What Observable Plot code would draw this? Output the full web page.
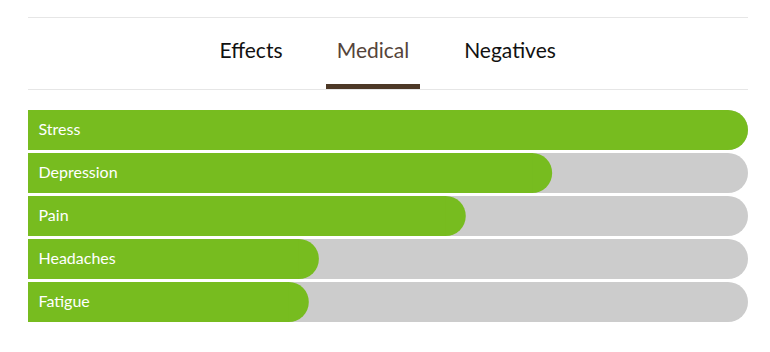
<!DOCTYPE html>
<html>
<head>
<meta charset="utf-8">
<script src="https://cdn.jsdelivr.net/npm/d3@7"></script>
<script src="https://cdn.jsdelivr.net/npm/@observablehq/plot@0.6"></script>
<style>
  html, body { margin: 0; padding: 0; background: #fff; }
  body { width: 770px; height: 352px; overflow: hidden; font-family: Lato, "Open Sans", sans-serif; }
  #header { position: relative; width: 770px; height: 100px; }
  .rule { position: absolute; left: 28px; width: 720px; height: 1px; background: #e6e6e6; }
  .tab { position: absolute; top: 39px; font-size: 21px; font-weight: 400; line-height: 22px; color: #111; transform: translateX(-50%); white-space: nowrap; }
  .tab.active { color: #55443a; }
  #underline { position: absolute; left: 326px; top: 84px; width: 94px; height: 5px; background: #4d3826; }
  #chart svg { display: block; }
</style>
</head>
<body>
<div id="header">
  <div class="rule" style="top:17px"></div>
  <div id="tabs"></div>
  <div id="underline"></div>
  <div class="rule" style="top:89px"></div>
</div>
<div id="chart"></div>
<script>
const tabs = ["Effects", "Medical", "Negatives"];
const activeTab = "Medical";
const tabCenters = [251, 373, 510];

const conditions = ["Stress", "Depression", "Pain", "Headaches", "Fatigue"];
const percents = [100, 72.8, 60.8, 40.4, 39.0];

const tabsDiv = document.getElementById("tabs");
tabs.forEach((t, i) => {
  const el = document.createElement("div");
  el.className = "tab" + (t === activeTab ? " active" : "");
  el.style.left = tabCenters[i] + "px";
  el.textContent = t;
  tabsDiv.appendChild(el);
});

const data = conditions.map((c, i) => ({name: c, value: percents[i]}));

const chart = Plot.plot({
  width: 770,
  height: 252,
  marginLeft: 28,
  marginRight: 22,
  marginTop: 10,
  marginBottom: 30,
  style: {fontFamily: "Lato, 'Open Sans', sans-serif", background: "#fff"},
  x: {domain: [0, 100], axis: null},
  y: {domain: conditions, axis: null, paddingInner: 3 / 43, paddingOuter: 0},
  marks: [
    // grey track (rounded right, square left)
    Plot.barX(data, {x1: 0, x2: 100, y: "name", fill: "#cccccc", rx: 20}),
    Plot.barX(data, {x1: 0, x2: 100, y: "name", fill: "#cccccc", insetRight: 20}),
    // green value bars
    Plot.barX(data, {x1: 0, x2: "value", y: "name", fill: "#77bc1f", rx: 20}),
    Plot.barX(data, {x1: 0, x2: "value", y: "name", fill: "#77bc1f", insetRight: 20}),
    Plot.text(data, {x: 0, y: "name", text: "name", dx: 10, dy: -1, textAnchor: "start", fill: "#ffffff", fontSize: 16})
  ]
});
document.getElementById("chart").appendChild(chart);
</script>
</body>
</html>
